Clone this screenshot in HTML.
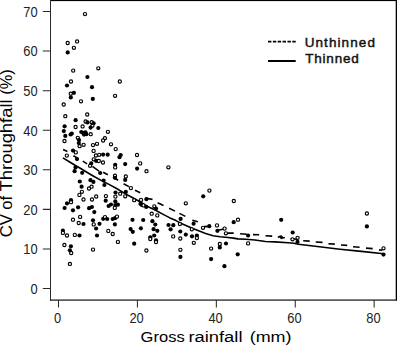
<!DOCTYPE html>
<html><head><meta charset="utf-8"><style>
html,body{margin:0;padding:0;background:#fff;}
body{width:397px;height:345px;overflow:hidden;font-family:"Liberation Sans",sans-serif;}
svg{display:block;}
</style></head><body>
<svg width="397" height="345" viewBox="0 0 397 345">
<rect width="397" height="345" fill="#fff"/>
<rect x="50" y="0" width="347" height="1.1" fill="#000"/>
<rect x="395.7" y="0" width="1.3" height="300.8" fill="#000"/>
<rect x="50" y="0" width="1" height="301" fill="#2a2a2a"/>
<rect x="50" y="299.4" width="346" height="1.4" fill="#333"/>
<path d="M42.8,288.50 H50 M42.8,248.93 H50 M42.8,209.36 H50 M42.8,169.79 H50 M42.8,130.22 H50 M42.8,90.65 H50 M42.8,51.08 H50 M42.8,11.51 H50 M58.50,300 V307.6 M137.42,300 V307.6 M216.34,300 V307.6 M295.26,300 V307.6 M374.18,300 V307.6" stroke="#2a2a2a" stroke-width="1.05" fill="none"/>
<g font-family="Liberation Sans, sans-serif" font-size="14" fill="#222">
<text transform="translate(37.6,293.80) scale(0.92,1)" text-anchor="end">0</text>
<text transform="translate(37.6,254.23) scale(0.92,1)" text-anchor="end">10</text>
<text transform="translate(37.6,214.66) scale(0.92,1)" text-anchor="end">20</text>
<text transform="translate(37.6,175.09) scale(0.92,1)" text-anchor="end">30</text>
<text transform="translate(37.6,135.52) scale(0.92,1)" text-anchor="end">40</text>
<text transform="translate(37.6,95.95) scale(0.92,1)" text-anchor="end">50</text>
<text transform="translate(37.6,56.38) scale(0.92,1)" text-anchor="end">60</text>
<text transform="translate(37.6,16.81) scale(0.92,1)" text-anchor="end">70</text>
<text transform="translate(57.70,322.5) scale(0.92,1)" text-anchor="middle">0</text>
<text transform="translate(136.62,322.5) scale(0.92,1)" text-anchor="middle">20</text>
<text transform="translate(215.54,322.5) scale(0.92,1)" text-anchor="middle">40</text>
<text transform="translate(294.46,322.5) scale(0.92,1)" text-anchor="middle">60</text>
<text transform="translate(373.38,322.5) scale(0.92,1)" text-anchor="middle">80</text>
</g>
<g font-family="Liberation Sans, sans-serif" font-size="15.5" fill="#000">
<text x="140.60" y="341.6" textLength="44.10" lengthAdjust="spacingAndGlyphs">Gross</text>
<text x="188.40" y="341.6" textLength="54.10" lengthAdjust="spacingAndGlyphs">rainfall</text>
<text x="249.70" y="341.6" textLength="41.80" lengthAdjust="spacingAndGlyphs">(mm)</text>
</g>
<g transform="rotate(-90)" font-family="Liberation Sans, sans-serif" font-size="16.5" fill="#000">
<text x="-237.30" y="12.2" textLength="23.30" lengthAdjust="spacingAndGlyphs">CV</text>
<text x="-209.80" y="12.2" textLength="13.80" lengthAdjust="spacingAndGlyphs">of</text>
<text x="-191.40" y="12.2" textLength="92.00" lengthAdjust="spacingAndGlyphs">Throughfall</text>
<text x="-94.70" y="12.2" textLength="25.50" lengthAdjust="spacingAndGlyphs">(%)</text>
</g>
<path d="M62.9,157.9 L69.3,161.7 L75.4,165.5 L80.7,168.5 L86,171.7 L93.6,176.2 L101.1,180.4 L109,184.4 L117,188.8 L125.1,193.6 L132.7,197.8 L140,201.8 L147.6,206.6 L155.1,210 L162.7,214.1 L170,217.9 L176,220.6 L181.3,223.6 L191.1,227.8 L198,230.4 L205.6,233.4 L213.1,235.7 L220.1,236.7 L228,237.5 L233.3,238.1 L237.9,238.9 L245.8,239.3 L254.9,240 L265.5,241.5 L275,241.9 L288,242.8 L294,243.3 L298.3,244.3 L311.1,245.8 L325.5,247.5 L340,249.2 L361.4,251.4 L383.5,253.7" stroke="#000" stroke-width="1.6" fill="none" stroke-linejoin="round"/>
<path d="M63.1,149.6 L67.4,151.6 M73.4,155.7 L77.3,157.9 M82.8,161.1 L87.1,163.9 M92.4,166.3 L99.0,171.2 M103.2,172.2 L107.8,174.8 M112.9,177.3 L118.2,180.2 M123.6,183.8 L128.9,186.6 M135,190.2 L140.2,192.7 M145.6,198.2 L152.5,199.4 M157.6,202.7 L163.5,205.4 M169.1,208.2 L175,211.1 M179.4,213.4 L185.4,216.4 M192.3,220.2 L197.9,221.7 M204,226.6 L209,226.4 M217.5,230.3 L223,229.2 M227.3,233.1 L233.7,233.1 M240.1,233.7 L246.8,234.2 M253,234.6 L259.2,234.8 M265.5,235.7 L272.2,236.1 M277.8,237.3 L281.8,235.7 M280.4,238.6 L284.8,237.4 M279.5,237.2 L283,237.0 M290.6,238.8 L297,239.3 M303.2,240.7 L309.7,241.1 M315.7,242.0 L322.5,242.4 M328.4,243.7 L334.8,244.1 M341,245.0 L347.2,245.4 M353,246.8 L359.6,247.2 M366,248.1 L372.7,248.6 M379,249.9 L382.3,250.3" stroke="#000" stroke-width="1.6" fill="none"/>
<circle cx="85.0" cy="14.1" r="1.6" fill="#fff" stroke="#000" stroke-width="1.15"/>
<circle cx="67.7" cy="43.0" r="1.6" fill="#fff" stroke="#000" stroke-width="1.15"/>
<circle cx="77.1" cy="41.4" r="1.6" fill="#fff" stroke="#000" stroke-width="1.15"/>
<circle cx="73.9" cy="47.8" r="1.6" fill="#fff" stroke="#000" stroke-width="1.15"/>
<circle cx="67.7" cy="52.4" r="2.1" fill="#000"/>
<circle cx="73.2" cy="70.6" r="1.6" fill="#fff" stroke="#000" stroke-width="1.15"/>
<circle cx="98.3" cy="68.3" r="1.6" fill="#fff" stroke="#000" stroke-width="1.15"/>
<circle cx="87.4" cy="77.0" r="2.1" fill="#000"/>
<circle cx="71.0" cy="81.5" r="1.6" fill="#fff" stroke="#000" stroke-width="1.15"/>
<circle cx="119.8" cy="81.5" r="1.6" fill="#fff" stroke="#000" stroke-width="1.15"/>
<circle cx="67.0" cy="85.5" r="2.1" fill="#000"/>
<circle cx="92.0" cy="87.2" r="2.1" fill="#000"/>
<circle cx="70.7" cy="93.7" r="1.6" fill="#fff" stroke="#000" stroke-width="1.15"/>
<circle cx="73.9" cy="92.8" r="2.1" fill="#000"/>
<circle cx="70.8" cy="97.4" r="2.1" fill="#000"/>
<circle cx="81.0" cy="101.3" r="1.6" fill="#fff" stroke="#000" stroke-width="1.15"/>
<circle cx="92.8" cy="98.9" r="2.1" fill="#000"/>
<circle cx="63.7" cy="104.5" r="1.6" fill="#fff" stroke="#000" stroke-width="1.15"/>
<circle cx="115.1" cy="95.8" r="1.6" fill="#fff" stroke="#000" stroke-width="1.15"/>
<circle cx="65.3" cy="116.2" r="1.6" fill="#fff" stroke="#000" stroke-width="1.15"/>
<circle cx="87.2" cy="114.5" r="1.6" fill="#fff" stroke="#000" stroke-width="1.15"/>
<circle cx="75.6" cy="120.2" r="2.1" fill="#000"/>
<circle cx="85.6" cy="121.5" r="1.6" fill="#fff" stroke="#000" stroke-width="1.15"/>
<circle cx="87.5" cy="122.4" r="2.1" fill="#000"/>
<circle cx="91.7" cy="122.2" r="1.6" fill="#fff" stroke="#000" stroke-width="1.15"/>
<circle cx="93.6" cy="123.3" r="2.1" fill="#000"/>
<circle cx="64.6" cy="126.3" r="2.1" fill="#000"/>
<circle cx="75.6" cy="127.0" r="1.6" fill="#fff" stroke="#000" stroke-width="1.15"/>
<circle cx="82.6" cy="126.4" r="1.6" fill="#fff" stroke="#000" stroke-width="1.15"/>
<circle cx="92.4" cy="125.7" r="1.6" fill="#fff" stroke="#000" stroke-width="1.15"/>
<circle cx="90.6" cy="127.6" r="2.1" fill="#000"/>
<circle cx="98.3" cy="128.0" r="2.1" fill="#000"/>
<circle cx="107.9" cy="131.8" r="1.6" fill="#fff" stroke="#000" stroke-width="1.15"/>
<circle cx="63.8" cy="131.1" r="2.1" fill="#000"/>
<circle cx="70.6" cy="134.5" r="2.1" fill="#000"/>
<circle cx="71.8" cy="133.6" r="2.1" fill="#000"/>
<circle cx="65.3" cy="135.9" r="2.1" fill="#000"/>
<circle cx="81.3" cy="132.0" r="2.1" fill="#000"/>
<circle cx="85.5" cy="132.4" r="2.1" fill="#000"/>
<circle cx="84.0" cy="134.6" r="2.1" fill="#000"/>
<circle cx="83.2" cy="132.8" r="2.1" fill="#000"/>
<circle cx="86.3" cy="134.2" r="2.1" fill="#000"/>
<circle cx="90.7" cy="134.2" r="1.6" fill="#fff" stroke="#000" stroke-width="1.15"/>
<circle cx="77.8" cy="137.8" r="1.6" fill="#fff" stroke="#000" stroke-width="1.15"/>
<circle cx="79.0" cy="140.1" r="2.1" fill="#000"/>
<circle cx="79.6" cy="146.2" r="1.6" fill="#fff" stroke="#000" stroke-width="1.15"/>
<circle cx="64.5" cy="141.0" r="1.6" fill="#fff" stroke="#000" stroke-width="1.15"/>
<circle cx="78.8" cy="143.0" r="2.1" fill="#000"/>
<circle cx="83.6" cy="144.8" r="1.6" fill="#fff" stroke="#000" stroke-width="1.15"/>
<circle cx="104.9" cy="138.2" r="1.6" fill="#fff" stroke="#000" stroke-width="1.15"/>
<circle cx="103.1" cy="140.5" r="1.6" fill="#fff" stroke="#000" stroke-width="1.15"/>
<circle cx="97.0" cy="143.8" r="1.6" fill="#fff" stroke="#000" stroke-width="1.15"/>
<circle cx="93.0" cy="145.1" r="1.6" fill="#fff" stroke="#000" stroke-width="1.15"/>
<circle cx="111.0" cy="144.3" r="1.6" fill="#fff" stroke="#000" stroke-width="1.15"/>
<circle cx="115.7" cy="149.1" r="1.6" fill="#fff" stroke="#000" stroke-width="1.15"/>
<circle cx="93.6" cy="150.9" r="1.6" fill="#fff" stroke="#000" stroke-width="1.15"/>
<circle cx="95.9" cy="155.5" r="1.6" fill="#fff" stroke="#000" stroke-width="1.15"/>
<circle cx="99.2" cy="154.8" r="1.6" fill="#fff" stroke="#000" stroke-width="1.15"/>
<circle cx="103.1" cy="154.6" r="2.1" fill="#000"/>
<circle cx="107.7" cy="154.7" r="2.1" fill="#000"/>
<circle cx="120.7" cy="155.0" r="2.1" fill="#000"/>
<circle cx="119.5" cy="157.2" r="2.1" fill="#000"/>
<circle cx="137.0" cy="155.0" r="1.6" fill="#fff" stroke="#000" stroke-width="1.15"/>
<circle cx="140.2" cy="163.4" r="1.6" fill="#fff" stroke="#000" stroke-width="1.15"/>
<circle cx="125.2" cy="164.1" r="2.1" fill="#000"/>
<circle cx="115.2" cy="164.8" r="2.1" fill="#000"/>
<circle cx="115.2" cy="167.4" r="1.6" fill="#fff" stroke="#000" stroke-width="1.15"/>
<circle cx="137.1" cy="168.6" r="2.1" fill="#000"/>
<circle cx="146.5" cy="171.2" r="1.6" fill="#fff" stroke="#000" stroke-width="1.15"/>
<circle cx="168.4" cy="167.3" r="1.6" fill="#fff" stroke="#000" stroke-width="1.15"/>
<circle cx="66.8" cy="155.6" r="1.6" fill="#fff" stroke="#000" stroke-width="1.15"/>
<circle cx="73.0" cy="150.6" r="2.1" fill="#000"/>
<circle cx="75.8" cy="152.4" r="1.6" fill="#fff" stroke="#000" stroke-width="1.15"/>
<circle cx="77.0" cy="159.1" r="2.1" fill="#000"/>
<circle cx="75.5" cy="167.4" r="2.1" fill="#000"/>
<circle cx="74.6" cy="171.2" r="2.1" fill="#000"/>
<circle cx="82.2" cy="172.8" r="2.1" fill="#000"/>
<circle cx="93.7" cy="159.3" r="1.6" fill="#fff" stroke="#000" stroke-width="1.15"/>
<circle cx="96.2" cy="160.9" r="2.1" fill="#000"/>
<circle cx="98.8" cy="161.0" r="1.6" fill="#fff" stroke="#000" stroke-width="1.15"/>
<circle cx="103.0" cy="162.5" r="1.6" fill="#fff" stroke="#000" stroke-width="1.15"/>
<circle cx="91.2" cy="163.4" r="2.1" fill="#000"/>
<circle cx="90.1" cy="165.8" r="1.6" fill="#fff" stroke="#000" stroke-width="1.15"/>
<circle cx="100.2" cy="173.0" r="2.1" fill="#000"/>
<circle cx="115.0" cy="175.7" r="1.6" fill="#fff" stroke="#000" stroke-width="1.15"/>
<circle cx="115.0" cy="177.8" r="2.1" fill="#000"/>
<circle cx="125.8" cy="176.5" r="1.6" fill="#fff" stroke="#000" stroke-width="1.15"/>
<circle cx="125.2" cy="179.9" r="2.1" fill="#000"/>
<circle cx="79.8" cy="181.5" r="2.1" fill="#000"/>
<circle cx="90.5" cy="180.2" r="2.1" fill="#000"/>
<circle cx="93.4" cy="181.9" r="2.1" fill="#000"/>
<circle cx="103.6" cy="180.5" r="2.1" fill="#000"/>
<circle cx="104.4" cy="185.0" r="2.1" fill="#000"/>
<circle cx="81.6" cy="186.7" r="2.1" fill="#000"/>
<circle cx="89.0" cy="188.5" r="1.6" fill="#fff" stroke="#000" stroke-width="1.15"/>
<circle cx="91.6" cy="186.7" r="1.6" fill="#fff" stroke="#000" stroke-width="1.15"/>
<circle cx="81.9" cy="191.8" r="1.6" fill="#fff" stroke="#000" stroke-width="1.15"/>
<circle cx="79.4" cy="194.9" r="1.6" fill="#fff" stroke="#000" stroke-width="1.15"/>
<circle cx="83.5" cy="199.5" r="1.6" fill="#fff" stroke="#000" stroke-width="1.15"/>
<circle cx="92.0" cy="199.5" r="1.6" fill="#fff" stroke="#000" stroke-width="1.15"/>
<circle cx="96.2" cy="196.5" r="1.6" fill="#fff" stroke="#000" stroke-width="1.15"/>
<circle cx="130.9" cy="188.1" r="1.6" fill="#fff" stroke="#000" stroke-width="1.15"/>
<circle cx="125.8" cy="191.9" r="2.1" fill="#000"/>
<circle cx="125.2" cy="196.3" r="1.6" fill="#fff" stroke="#000" stroke-width="1.15"/>
<circle cx="115.5" cy="192.6" r="2.1" fill="#000"/>
<circle cx="115.4" cy="196.6" r="1.6" fill="#fff" stroke="#000" stroke-width="1.15"/>
<circle cx="120.2" cy="193.7" r="1.6" fill="#fff" stroke="#000" stroke-width="1.15"/>
<circle cx="105.9" cy="196.1" r="1.6" fill="#fff" stroke="#000" stroke-width="1.15"/>
<circle cx="105.7" cy="200.7" r="2.1" fill="#000"/>
<circle cx="115.3" cy="201.4" r="2.1" fill="#000"/>
<circle cx="117.9" cy="204.7" r="2.1" fill="#000"/>
<circle cx="108.6" cy="206.0" r="2.1" fill="#000"/>
<circle cx="111.0" cy="204.5" r="2.1" fill="#000"/>
<circle cx="115.3" cy="205.1" r="2.1" fill="#000"/>
<circle cx="114.8" cy="207.9" r="1.6" fill="#fff" stroke="#000" stroke-width="1.15"/>
<circle cx="134.2" cy="200.2" r="1.6" fill="#fff" stroke="#000" stroke-width="1.15"/>
<circle cx="141.0" cy="199.9" r="1.6" fill="#fff" stroke="#000" stroke-width="1.15"/>
<circle cx="146.4" cy="199.2" r="2.1" fill="#000"/>
<circle cx="140.5" cy="203.9" r="2.1" fill="#000"/>
<circle cx="141.9" cy="205.0" r="2.1" fill="#000"/>
<circle cx="143.5" cy="205.4" r="1.6" fill="#fff" stroke="#000" stroke-width="1.15"/>
<circle cx="146.2" cy="206.9" r="2.1" fill="#000"/>
<circle cx="154.3" cy="206.3" r="1.6" fill="#fff" stroke="#000" stroke-width="1.15"/>
<circle cx="156.0" cy="208.5" r="2.1" fill="#000"/>
<circle cx="151.7" cy="213.7" r="1.6" fill="#fff" stroke="#000" stroke-width="1.15"/>
<circle cx="157.3" cy="215.4" r="1.6" fill="#fff" stroke="#000" stroke-width="1.15"/>
<circle cx="209.4" cy="190.6" r="1.6" fill="#fff" stroke="#000" stroke-width="1.15"/>
<circle cx="203.2" cy="196.3" r="2.1" fill="#000"/>
<circle cx="185.8" cy="203.3" r="1.6" fill="#fff" stroke="#000" stroke-width="1.15"/>
<circle cx="233.8" cy="201.0" r="1.6" fill="#fff" stroke="#000" stroke-width="1.15"/>
<circle cx="180.6" cy="218.9" r="2.1" fill="#000"/>
<circle cx="179.9" cy="224.0" r="1.6" fill="#fff" stroke="#000" stroke-width="1.15"/>
<circle cx="193.6" cy="223.7" r="2.1" fill="#000"/>
<circle cx="191.8" cy="229.3" r="1.6" fill="#fff" stroke="#000" stroke-width="1.15"/>
<circle cx="203.0" cy="227.8" r="1.6" fill="#fff" stroke="#000" stroke-width="1.15"/>
<circle cx="209.3" cy="226.2" r="2.1" fill="#000"/>
<circle cx="217.0" cy="225.4" r="1.6" fill="#fff" stroke="#000" stroke-width="1.15"/>
<circle cx="217.4" cy="230.8" r="2.1" fill="#000"/>
<circle cx="224.6" cy="228.6" r="1.6" fill="#fff" stroke="#000" stroke-width="1.15"/>
<circle cx="225.9" cy="233.3" r="1.6" fill="#fff" stroke="#000" stroke-width="1.15"/>
<circle cx="233.7" cy="222.2" r="2.1" fill="#000"/>
<circle cx="238.0" cy="219.7" r="1.6" fill="#fff" stroke="#000" stroke-width="1.15"/>
<circle cx="185.8" cy="234.6" r="2.1" fill="#000"/>
<circle cx="192.0" cy="236.3" r="2.1" fill="#000"/>
<circle cx="196.9" cy="235.6" r="2.1" fill="#000"/>
<circle cx="196.9" cy="238.1" r="1.6" fill="#fff" stroke="#000" stroke-width="1.15"/>
<circle cx="193.8" cy="242.8" r="1.6" fill="#fff" stroke="#000" stroke-width="1.15"/>
<circle cx="219.8" cy="244.0" r="1.6" fill="#fff" stroke="#000" stroke-width="1.15"/>
<circle cx="226.0" cy="243.5" r="2.1" fill="#000"/>
<circle cx="219.8" cy="247.4" r="2.1" fill="#000"/>
<circle cx="211.1" cy="248.6" r="1.6" fill="#fff" stroke="#000" stroke-width="1.15"/>
<circle cx="211.1" cy="259.1" r="2.1" fill="#000"/>
<circle cx="224.4" cy="266.2" r="2.1" fill="#000"/>
<circle cx="237.7" cy="254.3" r="2.1" fill="#000"/>
<circle cx="248.1" cy="235.5" r="2.1" fill="#000"/>
<circle cx="248.1" cy="243.4" r="1.6" fill="#fff" stroke="#000" stroke-width="1.15"/>
<circle cx="281.2" cy="219.8" r="2.1" fill="#000"/>
<circle cx="292.7" cy="232.5" r="2.1" fill="#000"/>
<circle cx="292.5" cy="239.3" r="1.6" fill="#fff" stroke="#000" stroke-width="1.15"/>
<circle cx="297.6" cy="237.8" r="1.6" fill="#fff" stroke="#000" stroke-width="1.15"/>
<circle cx="297.5" cy="241.9" r="2.1" fill="#000"/>
<circle cx="366.9" cy="213.5" r="1.6" fill="#fff" stroke="#000" stroke-width="1.15"/>
<circle cx="366.9" cy="226.4" r="2.1" fill="#000"/>
<circle cx="383.5" cy="248.3" r="1.6" fill="#fff" stroke="#000" stroke-width="1.15"/>
<circle cx="383.5" cy="254.6" r="2.1" fill="#000"/>
<circle cx="71.0" cy="200.2" r="2.1" fill="#000"/>
<circle cx="71.0" cy="202.2" r="1.6" fill="#fff" stroke="#000" stroke-width="1.15"/>
<circle cx="67.0" cy="203.4" r="2.1" fill="#000"/>
<circle cx="64.6" cy="208.0" r="2.1" fill="#000"/>
<circle cx="73.0" cy="210.3" r="2.1" fill="#000"/>
<circle cx="78.1" cy="207.3" r="2.1" fill="#000"/>
<circle cx="80.1" cy="216.9" r="1.6" fill="#fff" stroke="#000" stroke-width="1.15"/>
<circle cx="73.0" cy="219.7" r="1.6" fill="#fff" stroke="#000" stroke-width="1.15"/>
<circle cx="78.7" cy="223.0" r="1.6" fill="#fff" stroke="#000" stroke-width="1.15"/>
<circle cx="89.1" cy="208.2" r="2.1" fill="#000"/>
<circle cx="91.9" cy="207.0" r="2.1" fill="#000"/>
<circle cx="94.3" cy="212.1" r="2.1" fill="#000"/>
<circle cx="93.0" cy="220.3" r="2.1" fill="#000"/>
<circle cx="93.7" cy="224.4" r="1.6" fill="#fff" stroke="#000" stroke-width="1.15"/>
<circle cx="99.5" cy="223.8" r="2.1" fill="#000"/>
<circle cx="103.2" cy="218.8" r="2.1" fill="#000"/>
<circle cx="105.0" cy="217.1" r="1.6" fill="#fff" stroke="#000" stroke-width="1.15"/>
<circle cx="107.2" cy="219.0" r="2.1" fill="#000"/>
<circle cx="83.5" cy="224.0" r="2.1" fill="#000"/>
<circle cx="112.7" cy="219.0" r="2.1" fill="#000"/>
<circle cx="115.1" cy="218.2" r="2.1" fill="#000"/>
<circle cx="117.0" cy="216.6" r="1.6" fill="#fff" stroke="#000" stroke-width="1.15"/>
<circle cx="114.9" cy="224.4" r="2.1" fill="#000"/>
<circle cx="108.3" cy="230.9" r="1.6" fill="#fff" stroke="#000" stroke-width="1.15"/>
<circle cx="112.7" cy="234.0" r="1.6" fill="#fff" stroke="#000" stroke-width="1.15"/>
<circle cx="132.5" cy="219.8" r="2.1" fill="#000"/>
<circle cx="143.2" cy="220.0" r="2.1" fill="#000"/>
<circle cx="152.4" cy="221.2" r="2.1" fill="#000"/>
<circle cx="155.3" cy="224.6" r="2.1" fill="#000"/>
<circle cx="130.6" cy="229.1" r="2.1" fill="#000"/>
<circle cx="132.8" cy="231.8" r="2.1" fill="#000"/>
<circle cx="140.9" cy="228.3" r="2.1" fill="#000"/>
<circle cx="153.6" cy="229.2" r="2.1" fill="#000"/>
<circle cx="157.3" cy="230.8" r="2.1" fill="#000"/>
<circle cx="154.2" cy="235.5" r="2.1" fill="#000"/>
<circle cx="150.3" cy="237.3" r="2.1" fill="#000"/>
<circle cx="150.3" cy="239.0" r="1.6" fill="#fff" stroke="#000" stroke-width="1.15"/>
<circle cx="156.0" cy="240.3" r="2.1" fill="#000"/>
<circle cx="156.0" cy="242.1" r="1.6" fill="#fff" stroke="#000" stroke-width="1.15"/>
<circle cx="146.4" cy="250.5" r="1.6" fill="#fff" stroke="#000" stroke-width="1.15"/>
<circle cx="168.5" cy="225.0" r="2.1" fill="#000"/>
<circle cx="173.3" cy="225.2" r="2.1" fill="#000"/>
<circle cx="170.6" cy="229.3" r="2.1" fill="#000"/>
<circle cx="180.3" cy="231.5" r="2.1" fill="#000"/>
<circle cx="173.2" cy="236.4" r="1.6" fill="#fff" stroke="#000" stroke-width="1.15"/>
<circle cx="180.3" cy="238.5" r="1.6" fill="#fff" stroke="#000" stroke-width="1.15"/>
<circle cx="62.9" cy="230.7" r="2.1" fill="#000"/>
<circle cx="62.9" cy="232.9" r="1.6" fill="#fff" stroke="#000" stroke-width="1.15"/>
<circle cx="67.0" cy="235.5" r="1.6" fill="#fff" stroke="#000" stroke-width="1.15"/>
<circle cx="74.8" cy="234.9" r="1.6" fill="#fff" stroke="#000" stroke-width="1.15"/>
<circle cx="79.5" cy="235.5" r="2.1" fill="#000"/>
<circle cx="64.4" cy="245.0" r="1.6" fill="#fff" stroke="#000" stroke-width="1.15"/>
<circle cx="70.9" cy="246.3" r="2.1" fill="#000"/>
<circle cx="69.9" cy="250.3" r="2.1" fill="#000"/>
<circle cx="71.2" cy="253.0" r="1.6" fill="#fff" stroke="#000" stroke-width="1.15"/>
<circle cx="69.9" cy="263.9" r="1.6" fill="#fff" stroke="#000" stroke-width="1.15"/>
<circle cx="96.1" cy="228.5" r="2.1" fill="#000"/>
<circle cx="97.0" cy="235.5" r="2.1" fill="#000"/>
<circle cx="93.0" cy="249.6" r="1.6" fill="#fff" stroke="#000" stroke-width="1.15"/>
<circle cx="117.9" cy="241.9" r="1.6" fill="#fff" stroke="#000" stroke-width="1.15"/>
<circle cx="134.2" cy="243.7" r="2.1" fill="#000"/>
<circle cx="180.4" cy="249.8" r="1.6" fill="#fff" stroke="#000" stroke-width="1.15"/>
<circle cx="180.4" cy="256.9" r="2.1" fill="#000"/>
<path d="M268,41.7 H295.7" stroke="#000" stroke-width="1.8" stroke-dasharray="3.4 1.46"/>
<path d="M268,61 H295.7" stroke="#000" stroke-width="2"/>
<g font-family="Liberation Sans, sans-serif" font-size="13.5" fill="#111" stroke="#111" stroke-width="0.45">
<text x="304.7" y="46.7" textLength="70.2" lengthAdjust="spacing">Unthinned</text>
<text x="305.2" y="62.8" textLength="53.6" lengthAdjust="spacing">Thinned</text>
</g>
</svg>
</body></html>
